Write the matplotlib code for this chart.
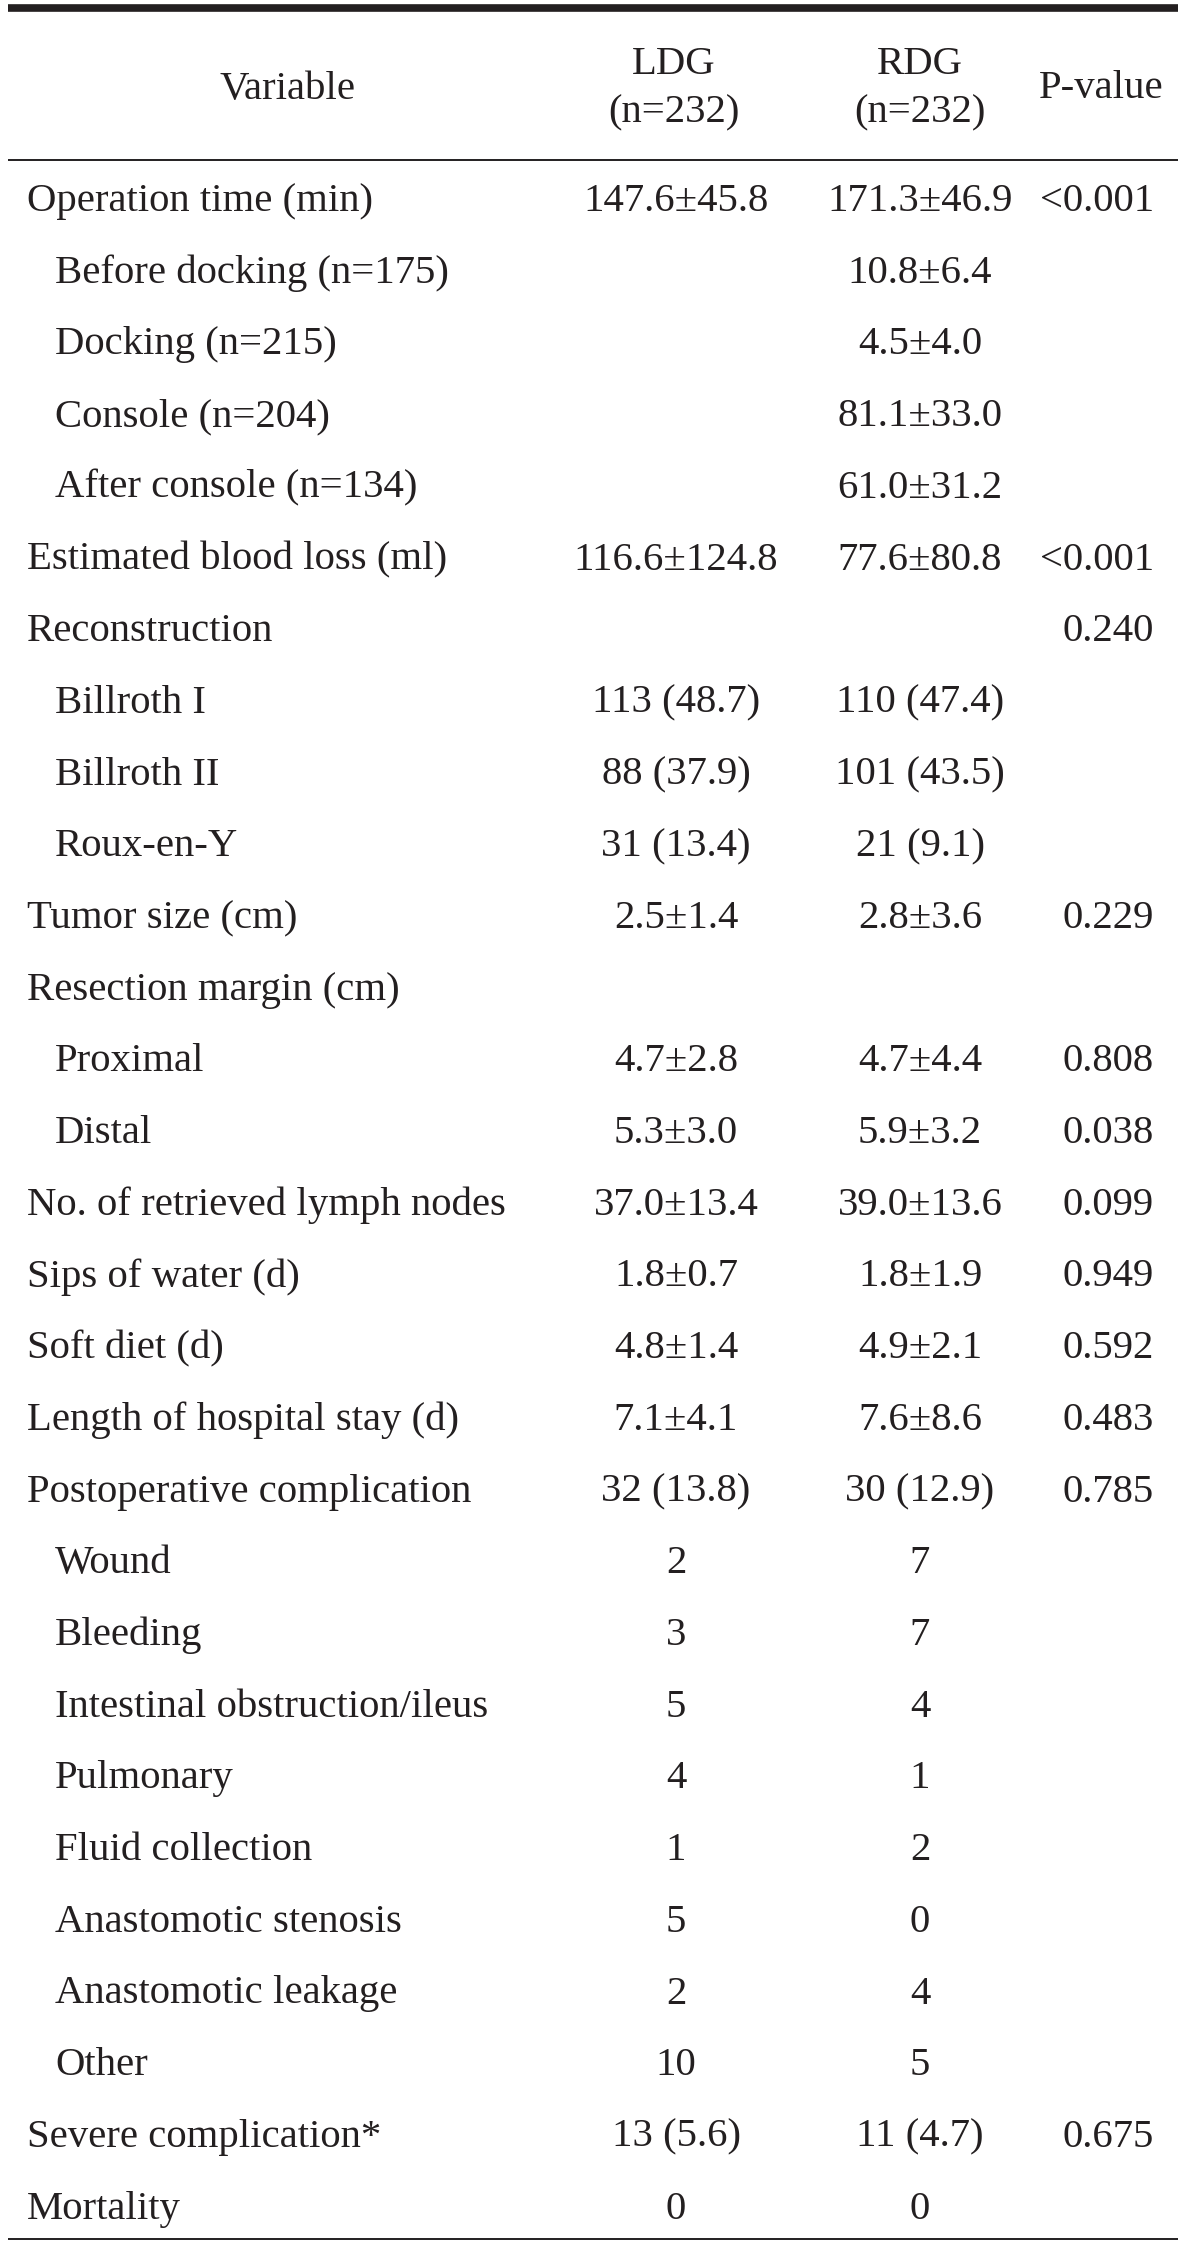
import matplotlib.pyplot as plt

# Table contents
labels = ["Operation time (min)", "Before docking (n=175)", "Docking (n=215)",
          "Console (n=204)", "After console (n=134)", "Estimated blood loss (ml)",
          "Reconstruction", "Billroth I", "Billroth II", "Roux-en-Y",
          "Tumor size (cm)", "Resection margin (cm)", "Proximal", "Distal",
          "No. of retrieved lymph nodes", "Sips of water (d)", "Soft diet (d)",
          "Length of hospital stay (d)", "Postoperative complication",
          "Wound", "Bleeding", "Intestinal obstruction/ileus", "Pulmonary",
          "Fluid collection", "Anastomotic stenosis", "Anastomotic leakage",
          "Other", "Severe complication*", "Mortality"]
indent = [0, 1, 1, 1, 1, 0, 0, 1, 1, 1, 0, 0, 1, 1, 0, 0, 0, 0, 0,
          1, 1, 1, 1, 1, 1, 1, 1, 0, 0]
ldg = ["147.6±45.8", "", "", "", "", "116.6±124.8", "", "113 (48.7)",
       "88 (37.9)", "31 (13.4)", "2.5±1.4", "", "4.7±2.8", "5.3±3.0",
       "37.0±13.4", "1.8±0.7", "4.8±1.4", "7.1±4.1", "32 (13.8)",
       "2", "3", "5", "4", "1", "5", "2", "10", "13 (5.6)", "0"]
rdg = ["171.3±46.9", "10.8±6.4", "4.5±4.0", "81.1±33.0", "61.0±31.2",
       "77.6±80.8", "", "110 (47.4)", "101 (43.5)", "21 (9.1)", "2.8±3.6", "",
       "4.7±4.4", "5.9±3.2", "39.0±13.6", "1.8±1.9", "4.9±2.1", "7.6±8.6",
       "30 (12.9)", "7", "7", "4", "1", "2", "0", "4", "5", "11 (4.7)", "0"]
pval = ["<0.001", "", "", "", "", "<0.001", "0.240", "", "", "", "0.229", "",
        "0.808", "0.038", "0.099", "0.949", "0.592", "0.483", "0.785",
        "", "", "", "", "", "", "", "", "0.675", ""]
headers = ["Variable", "LDG\n(n=232)", "RDG\n(n=232)", "P-value"]

W, H = 1200, 2247
fig = plt.figure(figsize=(W / 100, H / 100), dpi=100)
ax = fig.add_axes([0, 0, 1, 1])
ax.set_xlim(0, W)
ax.set_ylim(H, 0)
ax.axis("off")

ink = "#231f20"
font = dict(family="Liberation Serif", size=29.3, color=ink)

# rules
ax.hlines(7.5, 8, 1178, color=ink, lw=5.5)
ax.hlines(160, 8, 1178, color=ink, lw=1.4)
ax.hlines(2239, 8, 1178, color=ink, lw=1.4)

# header
col_x = [288, 674, 920, 1101]
for x, h in zip(col_x, headers):
    ax.text(x, 89, h, ha="center", va="center", linespacing=1.4, **font)

# body
y0, dy = 196, 71.7
for i, lab in enumerate(labels):
    y = y0 + i * dy + 15
    ax.text(27 + 28 * indent[i], y, lab, ha="left", va="baseline", **font)
    ax.text(676, y, ldg[i], ha="center", va="baseline", **font)
    ax.text(920, y, rdg[i], ha="center", va="baseline", **font)
    ax.text(1154, y, pval[i], ha="right", va="baseline", **font)

fig.savefig("out.png", dpi=100)
